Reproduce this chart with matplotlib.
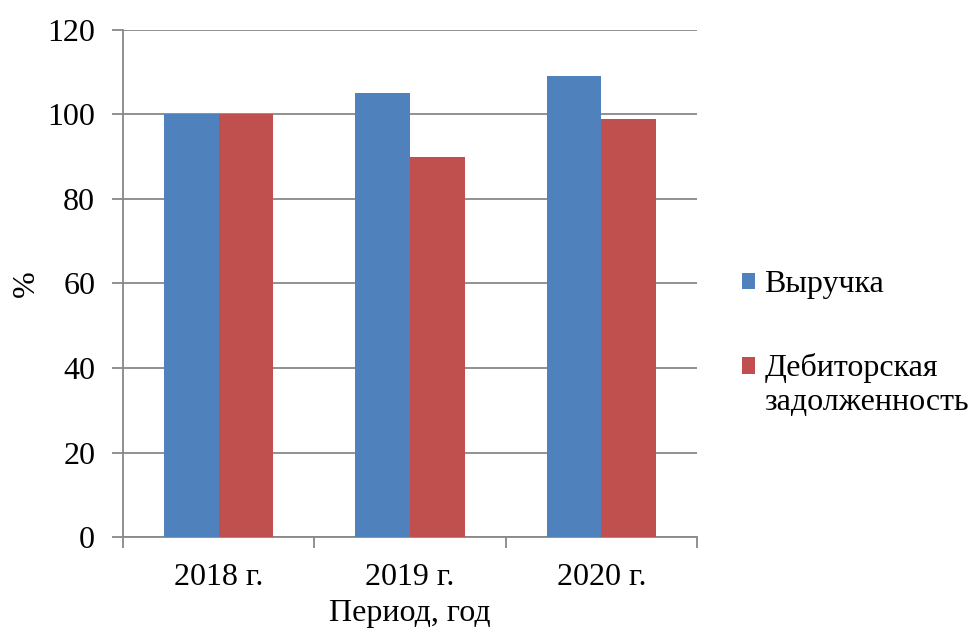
import numpy as np
import matplotlib.pyplot as plt
from matplotlib.patches import Rectangle
from matplotlib.legend_handler import HandlerPatch

# Chart data
years = ["2018 г.", "2019 г.", "2020 г."]
revenue = [100, 105, 109]
receivables = [100, 90, 99]
series_names = ["Выручка", "Дебиторская\nзадолженность"]
y_ticks = [0, 20, 40, 60, 80, 100, 120]

plt.rcParams["font.family"] = ["Liberation Serif", "DejaVu Serif"]
plt.rcParams["font.size"] = 23

fig = plt.figure(figsize=(9.71, 6.35), dpi=100)
ax = fig.add_axes([0.1267, 0.1543, 0.5911, 0.7985])

x = np.arange(len(years))
w = 0.286
b1 = ax.bar(x - w / 2, revenue, w, color="#4F81BD", zorder=3)
b2 = ax.bar(x + w / 2, receivables, w, color="#C0504D", zorder=3)

ax.set_xlim(-0.5, len(years) - 0.5)
ax.set_ylim(0, 120)
ax.set_yticks(y_ticks)
ax.yaxis.grid(True, color="#888888", linewidth=1.3, zorder=0)

# category ticks sit at the boundaries, labels at the centres
ax.set_xticks(np.arange(len(years) + 1) - 0.5)
ax.set_xticklabels([])
ax.set_xticks(x, minor=True)
ax.set_xticklabels(years, minor=True)
ax.tick_params(axis="x", which="minor", length=0, pad=19)
ax.tick_params(axis="x", which="major", length=8, width=1.3, color="#888888")
ax.tick_params(axis="y", length=8, width=1.3, color="#888888", pad=12)

for side in ["top", "right"]:
    ax.spines[side].set_visible(False)
for side in ["left", "bottom"]:
    ax.spines[side].set_color("#888888")
    ax.spines[side].set_linewidth(1.3)

ax.set_xlabel("Период, год", labelpad=5)
ax.set_ylabel("%", labelpad=5)


# put the legend square next to the first line of a two-line label
def top_square(legend, orig_handle, xdescent, ydescent, width, height, fontsize):
    return Rectangle((-xdescent, -ydescent + 0.6 * fontsize), width, height)


h1, h2 = b1.patches[0], b2.patches[0]
fig.legend([h1, h2], series_names, loc="center left", bbox_to_anchor=(0.751, 0.459),
           frameon=False, handlelength=0.42, handleheight=0.42, handletextpad=0.28,
           labelspacing=1.7, borderaxespad=0, borderpad=0.4,
           handler_map={h2: HandlerPatch(patch_func=top_square)})

fig.savefig("out.png", dpi=100)
